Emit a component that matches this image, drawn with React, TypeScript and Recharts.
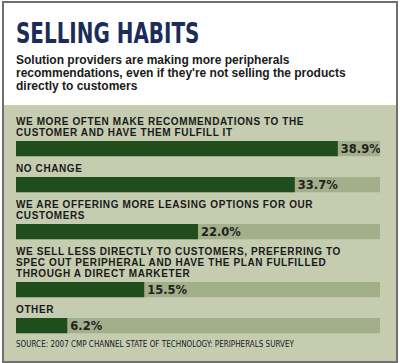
import React from 'react';
import { BarChart, Bar, XAxis, YAxis, LabelList } from 'recharts';

const title = 'SELLING HABITS';
const subtitleLines = [
  'Solution providers are making more peripherals',
  "recommendations, even if they're not selling the products",
  'directly to customers',
];
const categories = [
  'WE MORE OFTEN MAKE RECOMMENDATIONS TO THE\nCUSTOMER AND HAVE THEM FULFILL IT',
  'NO CHANGE',
  'WE ARE OFFERING MORE LEASING OPTIONS FOR OUR\nCUSTOMERS',
  'WE SELL LESS DIRECTLY TO CUSTOMERS, PREFERRING TO\nSPEC OUT PERIPHERAL AND HAVE THE PLAN FULFILLED\nTHROUGH A DIRECT MARKETER',
  'OTHER',
];
const values = [38.9, 33.7, 22.0, 15.5, 6.2];
const sourceText = 'SOURCE: 2007 CMP CHANNEL STATE OF TECHNOLOGY: PERIPHERALS SURVEY';

const C = {
  border: '#707070',
  title: '#1c2c5a',
  text: '#1a1a1a',
  green: '#c5ccb0',
  track: '#a3ae8b',
  bar: '#1f4d1b',
};

const Row = ({ label, value }: { label: string; value: number }) => {
  const data = [{ name: label, value }];
  return (
    <div style={{ marginBottom: 6 }}>
      <div
        style={{
          fontFamily: '"Liberation Sans", Arial, sans-serif',
          fontWeight: 700,
          fontSize: 10,
          lineHeight: '11px',
          letterSpacing: 0.6,
          color: C.text,
          whiteSpace: 'pre-line',
          marginBottom: 2,
        }}
      >
        {label}
      </div>
      <BarChart
        width={364}
        height={17}
        data={data}
        layout="vertical"
        margin={{ top: 0, right: 0, bottom: 0, left: 0 }}
        barCategoryGap={0}
      >
        <XAxis type="number" domain={[0, 44]} hide />
        <YAxis type="category" dataKey="name" hide />
        <Bar
          dataKey="value"
          fill={C.bar}
          barSize={17}
          background={{ fill: C.track }}
          isAnimationActive={false}
        >
          <LabelList
            dataKey="value"
            position="right"
            offset={3}
            formatter={(v: any) => `${Number(v).toFixed(1)}%`}
            fill="#222"
            fontSize={11.5}
            fontWeight={700}
            fontFamily='"DejaVu Sans", sans-serif'
          />
        </Bar>
      </BarChart>
    </div>
  );
};

export default function App() {
  return (
    <div
      style={{
        position: 'absolute',
        left: 2,
        top: 1,
        width: 396,
        height: 362,
        boxSizing: 'border-box',
        border: `2px solid ${C.border}`,
        background: '#fff',
        overflow: 'hidden',
      }}
    >
      <div
        style={{
          position: 'absolute',
          left: 12,
          top: 17,
          fontFamily: '"Liberation Sans Narrow", "DejaVu Sans Condensed", sans-serif',
          fontWeight: 700,
          fontSize: 28.4,
          lineHeight: '28.4px',
          color: C.title,
          whiteSpace: 'nowrap',
          transform: 'scaleX(0.78)',
          transformOrigin: 'left top',
        }}
      >
        {title}
      </div>
      <div
        style={{
          position: 'absolute',
          left: 12,
          top: 51,
          fontFamily: '"Liberation Sans", Arial, sans-serif',
          fontWeight: 700,
          fontSize: 12,
          lineHeight: '13px',
          color: C.text,
          whiteSpace: 'nowrap',
        }}
      >
        {subtitleLines.map((l, i) => (
          <div key={i}>{l}</div>
        ))}
      </div>
      <div
        style={{
          position: 'absolute',
          left: 0,
          top: 102,
          width: 392,
          height: 256,
          background: C.green,
        }}
      >
        <div style={{ position: 'absolute', left: 12, top: 11 }}>
          {categories.map((c, i) => (
            <Row key={i} label={c} value={values[i]} />
          ))}
          <div
            style={{
              fontFamily: '"Liberation Sans Narrow", "DejaVu Sans Condensed", sans-serif',
              fontSize: 8,
              lineHeight: '10px',
              color: C.text,
              whiteSpace: 'nowrap',
              marginTop: 1,
            }}
          >
            {sourceText}
          </div>
        </div>
      </div>
    </div>
  );
}
